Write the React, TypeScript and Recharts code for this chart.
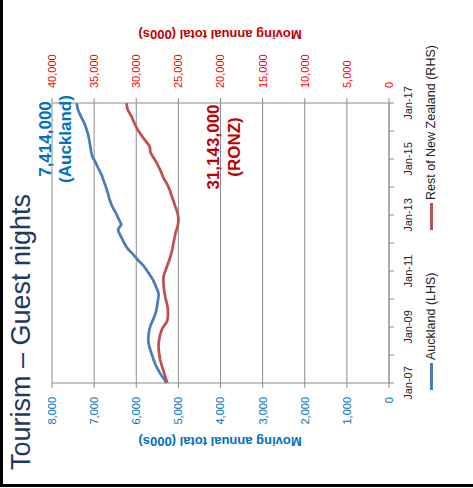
import { LineChart, Line, XAxis, YAxis, CartesianGrid, Legend } from 'recharts'

// Moving annual total guest nights (000s), monthly from Jan-07 to Jan-17
const aucklandNights = [
  5290, 5320, 5350, 5395, 5430, 5460, 5490, 5520, 5548, 5565, 5590, 5605,
  5626, 5645, 5660, 5680, 5695, 5707, 5712, 5715, 5710, 5705, 5700, 5685,
  5670, 5655, 5630, 5605, 5580, 5560, 5540, 5525, 5515, 5505, 5500, 5490,
  5480, 5472, 5469, 5480, 5500, 5525, 5548, 5575, 5595, 5630, 5665, 5700,
  5740, 5775, 5815, 5865, 5920, 5975, 6020, 6070, 6120, 6175, 6221, 6255,
  6285, 6315, 6340, 6370, 6400, 6422, 6430, 6390, 6357, 6380, 6410, 6435,
  6460, 6490, 6520, 6550, 6579, 6600, 6620, 6640, 6655, 6665, 6685, 6705,
  6720, 6738, 6760, 6780, 6800, 6817, 6845, 6870, 6900, 6925, 6950, 6980,
  7010, 7040, 7055, 7068, 7078, 7088, 7095, 7105, 7115, 7125, 7136, 7150,
  7170, 7185, 7205, 7225, 7250, 7280, 7310, 7333, 7360, 7380, 7395, 7405,
  7414,
]

const restOfNzNights = [
  26300, 26400, 26500, 26580, 26670, 26750, 26840, 26930, 27020, 27100, 27160, 27210,
  27250, 27290, 27320, 27345, 27350, 27340, 27310, 27260, 27200, 27140, 27050, 26950,
  26800, 26600, 26400, 26300, 26260, 26240, 26230, 26240, 26260, 26300, 26360, 26430,
  26500, 26560, 26610, 26660, 26700, 26730, 26750, 26770, 26790, 26780, 26740, 26660,
  26560, 26450, 26345, 26250, 26150, 26050, 25950, 25880, 25810, 25740, 25680, 25630,
  25590, 25530, 25470, 25410, 25360, 25280, 25190, 25110, 25040, 25000, 24990, 25000,
  25050, 25120, 25200, 25300, 25400, 25490, 25580, 25680, 25780, 25870, 25950, 26060,
  26170, 26300, 26450, 26620, 26790, 26900, 27010, 27120, 27250, 27390, 27520, 27680,
  27850, 28020, 28190, 28330, 28350, 28380, 28520, 28720, 28940, 29170, 29350, 29540,
  29730, 29900, 30030, 30170, 30300, 30420, 30520, 30680, 30850, 31010, 31080, 31120,
  31143,
]

const yearLabels = [
  'Jan-07', 'Jan-08', 'Jan-09', 'Jan-10', 'Jan-11', 'Jan-12',
  'Jan-13', 'Jan-14', 'Jan-15', 'Jan-16', 'Jan-17',
]
const leftTicks = [0, 1000, 2000, 3000, 4000, 5000, 6000, 7000, 8000]
const rightTicks = [0, 5000, 10000, 15000, 20000, 25000, 30000, 35000, 40000]
const seriesNames = ['Auckland (LHS)', 'Rest of New Zealand (RHS)']
const seriesColors = ['#4A7EBB', '#C0504D']

const rows = aucklandNights.map((v, i) => ({
  month: i,
  auckland: v,
  rest: restOfNzNights[i],
}))
const yearTicks = yearLabels.map((_, i) => i * 12)

const axisGrey = '#8C8C8C'
const font = '"Liberation Sans", Arial, sans-serif'
const thousands = (v: number) => v.toLocaleString('en-US')
const fullCount = (v: number) => (v * 1000).toLocaleString('en-US')

const axisTitle = (x: number, color: string) => () => (
  <text
    x={x}
    y={220}
    transform={`rotate(-90 ${x} 220)`}
    textAnchor="middle"
    dominantBaseline="central"
    fill={color}
    fontSize={13}
    fontWeight="bold"
  >
    Moving annual total (000s)
  </text>
)

const renderLegend = (props: any) => (
  <div style={{ display: 'flex', alignItems: 'center', fontSize: 12.5, lineHeight: '14px', color: '#262626' }}>
    {(props.payload || []).map((entry: any, i: number) => (
      <div key={entry.value} style={{ display: 'flex', alignItems: 'center', width: i === 0 ? 160 : 'auto' }}>
        <span style={{ display: 'inline-block', width: 27, height: 3, background: entry.color, marginRight: 3 }} />
        <span style={{ whiteSpace: 'nowrap' }}>{entry.value}</span>
      </div>
    ))}
  </div>
)

function GuestNightsChart() {
  const lastAuckland = aucklandNights[aucklandNights.length - 1]
  const lastRest = restOfNzNights[restOfNzNights.length - 1]
  return (
    <div style={{ position: 'relative', width: 488, height: 473, fontFamily: font }}>
      <LineChart width={488} height={473} data={rows} margin={{ top: 52, right: 0, bottom: 54, left: 0 }}>
        <CartesianGrid yAxisId="left" vertical={false} stroke={axisGrey} />
        <XAxis
          dataKey="month"
          type="number"
          domain={[0, 120]}
          ticks={yearTicks}
          interval={0}
          height={30}
          tickSize={5}
          tickMargin={10}
          tickFormatter={(v: number) => (v % 24 === 0 ? yearLabels[v / 12] : '')}
          tick={{ fontSize: 11, fill: '#262626' }}
          axisLine={{ stroke: axisGrey }}
          tickLine={{ stroke: axisGrey }}
        />
        <YAxis
          yAxisId="left"
          width={105}
          domain={[0, 8000]}
          ticks={leftTicks}
          interval={0}
          tickSize={5}
          tickMargin={9}
          tickFormatter={thousands}
          tick={{ fontSize: 11, fill: '#0070C0' }}
          axisLine={{ stroke: axisGrey }}
          tickLine={{ stroke: axisGrey }}
          label={axisTitle(47, '#0070C0')}
        />
        <YAxis
          yAxisId="right"
          orientation="right"
          width={103}
          domain={[0, 40000]}
          ticks={rightTicks}
          interval={0}
          tickSize={5}
          tickMargin={10}
          tickFormatter={thousands}
          tick={{ fontSize: 11, fill: '#FF0000' }}
          axisLine={{ stroke: axisGrey }}
          tickLine={{ stroke: axisGrey }}
          label={axisTitle(454, '#C00000')}
        />
        <Line
          yAxisId="left"
          dataKey="auckland"
          name={seriesNames[0]}
          stroke={seriesColors[0]}
          strokeWidth={2.75}
          dot={false}
          type="linear"
          isAnimationActive={false}
        />
        <Line
          yAxisId="right"
          dataKey="rest"
          name={seriesNames[1]}
          stroke={seriesColors[1]}
          strokeWidth={2.75}
          dot={false}
          type="linear"
          isAnimationActive={false}
        />
        <Legend
          layout="horizontal"
          verticalAlign="middle"
          align="center"
          content={renderLegend}
          wrapperStyle={{ top: 424, left: 98, width: 'auto', height: 14 }}
        />
      </LineChart>
      <svg width={488} height={473} style={{ position: 'absolute', left: 0, top: 0, pointerEvents: 'none' }}>
        <text x={18} y={30} fontSize={27} fill="#1F3A60">Tourism – Guest nights</text>
        <g fontSize={17} fontWeight="bold" textAnchor="middle">
          <text x={349} y={51} fill="#0070C0">{fullCount(lastAuckland)}</text>
          <text x={349} y={71} fill="#0070C0">(Auckland)</text>
          <text x={341} y={219} fill="#C00000">{fullCount(lastRest)}</text>
          <text x={341} y={240} fill="#C00000">(RONZ)</text>
        </g>
      </svg>
    </div>
  )
}

export default function App() {
  return (
    <div style={{ position: 'absolute', left: 0, top: 0, width: 473, height: 488, background: '#fff', overflow: 'hidden' }}>
      {/* the slide shows the chart turned a quarter turn anticlockwise */}
      <div
        style={{
          position: 'absolute',
          left: 0,
          top: 0,
          width: 488,
          height: 473,
          transformOrigin: '0 0',
          transform: 'translateY(488px) rotate(-90deg)',
        }}
      >
        <GuestNightsChart />
      </div>
      <div style={{ position: 'absolute', left: 0, top: 0, width: 3, height: 487, background: '#000' }} />
      <div style={{ position: 'absolute', left: 0, top: 484, width: 473, height: 3, background: '#000' }} />
    </div>
  )
}
